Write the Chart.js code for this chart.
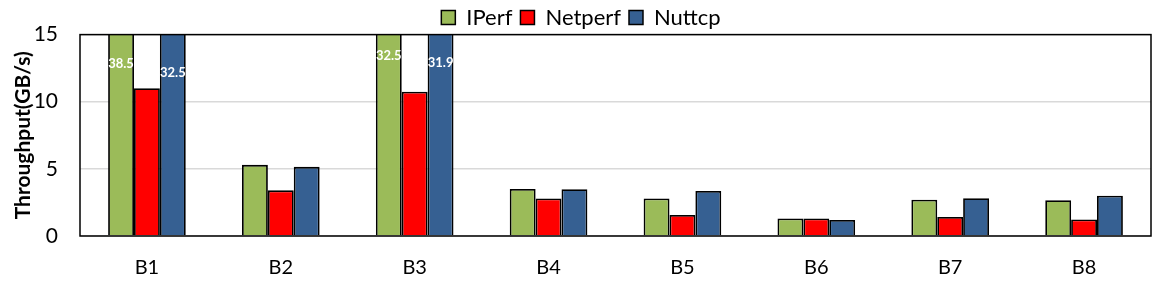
<!DOCTYPE html>
<html>
<head>
<meta charset="utf-8">
<script src="https://cdn.jsdelivr.net/npm/chart.js@4.4.1/dist/chart.umd.min.js"></script>
<style>
  html, body { margin: 0; padding: 0; background: #fff; }
  #wrap { width: 1162px; height: 282px; }
</style>
</head>
<body>
<div id="wrap"><canvas id="throughputChart"></canvas></div>
<script>
// data
const categories = ['B1', 'B2', 'B3', 'B4', 'B5', 'B6', 'B7', 'B8'];
const iperf   = [38.5, 5.3, 32.5, 3.5, 2.8, 1.3, 2.7, 2.67];
const netperf = [11.0, 3.4, 10.75, 2.8, 1.57, 1.3, 1.42, 1.23];
const nuttcp  = [32.5, 5.15, 31.9, 3.48, 3.36, 1.2, 2.82, 3.0];
const yTicks  = [0, 5, 10, 15];

const yMax = 15;
const FONT = 'Lato, "Open Sans", sans-serif';
// how far below the top of the plot the value of a clipped bar is printed
const labelDrop = { 0: [29, 0, 38], 2: [21, 0, 28] };

// fixed legend height so the plot starts where it does in the original
const legendHeight = {
    id: 'legendHeight',
    beforeInit(chart) {
        const fit = chart.legend.fit;
        chart.legend.fit = function () {
            fit.bind(chart.legend)();
            this.height = 36;
        };
    }
};

// frame around plot area
const framePlugin = {
    id: 'frame',
    afterDatasetsDraw(chart) {
        const a = chart.chartArea;
        const ctx = chart.ctx;
        ctx.save();
        ctx.strokeStyle = '#000';
        ctx.lineWidth = 1.5;
        ctx.strokeRect(a.left, a.top, a.right - a.left, a.bottom - a.top);
        ctx.restore();
    }
};

// white value labels on bars that go off the top
const clippedLabels = {
    id: 'clippedLabels',
    afterDraw(chart) {
        const ctx = chart.ctx;
        ctx.save();
        ctx.fillStyle = '#fff';
        ctx.font = 'bold 13px ' + FONT;
        ctx.textAlign = 'center';
        ctx.textBaseline = 'middle';
        chart.data.datasets.forEach((ds, di) => {
            chart.getDatasetMeta(di).data.forEach((bar, i) => {
                const v = ds.data[i];
                if (v > yMax) {
                    const drop = (labelDrop[i] && labelDrop[i][di]) || 30;
                    ctx.fillText(v.toFixed(1), bar.x, chart.chartArea.top + drop);
                }
            });
        });
        ctx.restore();
    }
};

document.addEventListener('DOMContentLoaded', () => {
    const ctx = document.getElementById('throughputChart').getContext('2d');
    const common = { borderColor: '#000', borderWidth: 1.8, categoryPercentage: 0.58, barPercentage: 1.0 };
    new Chart(ctx, {
        type: 'bar',
        data: {
            labels: categories,
            datasets: [
                { label: 'IPerf', data: iperf, backgroundColor: '#9bbb59', ...common },
                { label: 'Netperf', data: netperf, backgroundColor: '#ff0000', ...common },
                { label: 'Nuttcp', data: nuttcp, backgroundColor: '#366092', ...common }
            ]
        },
        options: {
            responsive: true,
            maintainAspectRatio: false,
            animation: false,
            layout: { padding: { left: 11, right: 11, top: -4, bottom: 0 } },
            plugins: {
                tooltip: { enabled: false },
                legend: {
                    position: 'top',
                    labels: {
                        color: '#000',
                        font: { family: FONT, size: 22 },
                        boxWidth: 14,
                        boxHeight: 14,
                        padding: 8,
                        generateLabels(chart) {
                            return chart.data.datasets.map((ds, i) => ({
                                text: ds.label,
                                fillStyle: ds.backgroundColor,
                                strokeStyle: '#000',
                                lineWidth: 1.5,
                                datasetIndex: i
                            }));
                        }
                    }
                }
            },
            scales: {
                x: {
                    afterFit(axis) { axis.height = 46; },
                    grid: { display: false, drawTicks: false },
                    border: { display: false },
                    ticks: { color: '#000', font: { family: FONT, size: 20 }, padding: 20, maxRotation: 0 }
                },
                y: {
                    min: 0,
                    max: yMax,
                    afterFit(axis) { axis.width = 69; },
                    afterBuildTicks(axis) { axis.ticks = yTicks.map(v => ({ value: v })); },
                    grid: { color: '#d9d9d9', lineWidth: 1.5, drawTicks: false },
                    border: { display: false },
                    ticks: { color: '#000', font: { family: FONT, size: 21 }, padding: 22 },
                    title: {
                        display: true,
                        text: 'Throughput(GB/s)',
                        color: '#000',
                        font: { family: FONT, size: 21, weight: 'bold' },
                        padding: { top: 0, bottom: 0 }
                    }
                }
            }
        },
        plugins: [legendHeight, framePlugin, clippedLabels]
    });
});
</script>
</body>
</html>
